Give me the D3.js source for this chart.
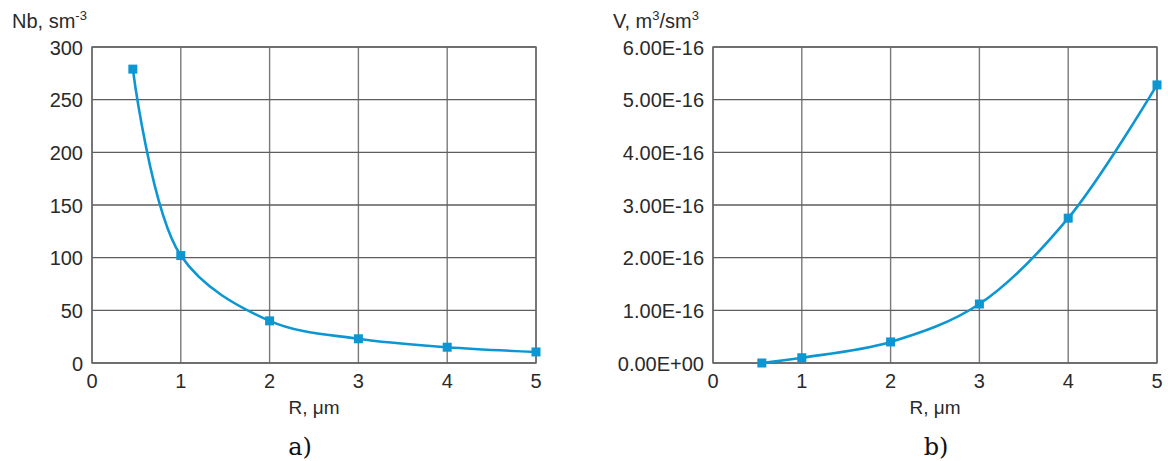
<!DOCTYPE html>
<html><head><meta charset="utf-8">
<script src="https://cdn.jsdelivr.net/npm/d3@7"></script>
<style>body{margin:0;background:#fff}svg{display:block}</style>
</head><body>
<svg id="c" width="1168" height="461"></svg>
<script>
// Chart a)
const rA = [0.46, 1, 2, 3, 4, 5];
const nbA = [279, 102, 40, 23, 15, 10.5];
const yTicksA = [0, 50, 100, 150, 200, 250, 300];
// Chart b)
const rB = [0.55, 1, 2, 3, 4, 5];
const vB = [0, 0.1e-16, 0.4e-16, 1.12e-16, 2.75e-16, 5.28e-16];
const yTicksB = [0, 1e-16, 2e-16, 3e-16, 4e-16, 5e-16, 6e-16];
const yTickLabelsB = ["0.00E+00","1.00E-16","2.00E-16","3.00E-16","4.00E-16","5.00E-16","6.00E-16"];
const xTicks = [0, 1, 2, 3, 4, 5];

const svg = d3.select("#c");
const blue = "#0c97d3";
const sans = "'Liberation Sans', Arial, sans-serif";
const txt = "#2a2a2a";

function panel(o) {
  const g = svg.append("g");
  const x = d3.scaleLinear().domain([0,5]).range([o.x0, o.x1]);
  const y = d3.scaleLinear().domain(o.ydom).range([363, 47]);
  g.selectAll(".vg").data(xTicks).join("line")
    .attr("x1", d=>x(d)).attr("x2", d=>x(d)).attr("y1", 47).attr("y2", 363)
    .attr("stroke", "#7a7a7a").attr("stroke-width", 1.4);
  g.selectAll(".hg").data(o.yticks).join("line")
    .attr("x1", o.x0).attr("x2", o.x1).attr("y1", d=>y(d)).attr("y2", d=>y(d))
    .attr("stroke", "#5e5e5e").attr("stroke-width", 1.4);
  g.append("rect").attr("x", o.x0).attr("y", 47).attr("width", o.x1-o.x0).attr("height", 316)
    .attr("fill","none").attr("stroke","#666").attr("stroke-width",1.4);
  g.selectAll(".yl").data(o.yticks).join("text")
    .attr("x", o.x0-9).attr("y", d=>y(d)+7.5).attr("text-anchor","end")
    .attr("font-family", sans).attr("font-size", 20).attr("fill",txt)
    .text((d,i)=>o.ylab[i]);
  g.selectAll(".xl").data(xTicks).join("text")
    .attr("x", d=>x(d)).attr("y", 388).attr("text-anchor","middle")
    .attr("font-family", sans).attr("font-size", 20).attr("fill",txt)
    .text(d=>d);
  g.append("text").attr("x", (o.x0+o.x1)/2).attr("y", 414).attr("text-anchor","middle")
    .attr("font-family", sans).attr("font-size", 19).attr("fill",txt).text("R, \u03bcm");
  const pts = o.xs.map((d,i)=>[d, o.ys[i]]);
  g.append("path").datum(pts)
    .attr("d", d3.line().x(d=>x(d[0])).y(d=>y(d[1])).curve(d3.curveCatmullRom.alpha(0.5)))
    .attr("fill","none").attr("stroke", blue).attr("stroke-width", 2.6);
  g.selectAll(".m").data(pts).join("rect")
    .attr("x", d=>x(d[0])-4.5).attr("y", d=>y(d[1])-4.5).attr("width",9).attr("height",9)
    .attr("fill", blue);
  return g;
}

panel({x0: 92, x1: 536, ydom: [0,300], yticks: yTicksA, ylab: yTicksA.map(String), xs: rA, ys: nbA});
panel({x0: 713, x1: 1157, ydom: [0,6e-16], yticks: yTicksB, ylab: yTickLabelsB, xs: rB, ys: vB});

const tA = svg.append("text").attr("x", 12).attr("y", 28).attr("font-family", sans).attr("font-size", 20).attr("fill",txt);
tA.append("tspan").text("Nb, sm");
tA.append("tspan").attr("dy", -8).attr("font-size", 13).text("-3");

const tB = svg.append("text").attr("x", 613).attr("y", 28).attr("font-family", sans).attr("font-size", 20).attr("fill",txt);
tB.append("tspan").text("V, m");
tB.append("tspan").attr("dy", -8).attr("font-size", 13).text("3");
tB.append("tspan").attr("dy", 8).text("/sm");
tB.append("tspan").attr("dy", -8).attr("font-size", 13).text("3");

const serif = "'DejaVu Serif', 'Liberation Serif', serif";
svg.append("text").attr("x", 300).attr("y", 455).attr("text-anchor","middle")
  .attr("font-family",serif).attr("font-size", 24).attr("fill","#111").text("a)");
svg.append("text").attr("x", 936).attr("y", 455).attr("text-anchor","middle")
  .attr("font-family",serif).attr("font-size", 24).attr("fill","#111").text("b)");
</script>
</body></html>
